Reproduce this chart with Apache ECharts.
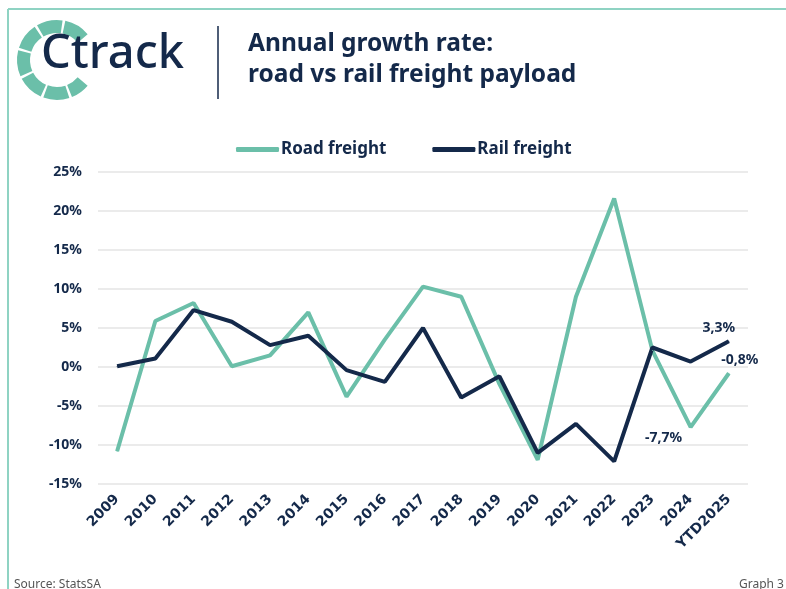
<!DOCTYPE html>
<html>
<head>
<meta charset="utf-8">
<script src="https://cdn.jsdelivr.net/npm/echarts@6/dist/echarts.min.js"></script>
<style>
  html, body { margin: 0; padding: 0; background: #fff; }
  #chart { width: 786px; height: 589px; }
</style>
</head>
<body>
<div id="chart"></div>
<script>
// data
const years = ['2009', '2010', '2011', '2012', '2013', '2014', '2015', '2016', '2017',
  '2018', '2019', '2020', '2021', '2022', '2023', '2024', 'YTD2025']
const roadFreight = [-10.8, 5.9, 8.2, 0.1, 1.5, 7.0, -3.8, 3.5, 10.3, 9.0, -2.2, -11.9, 9.0, 21.6, 2.1, -7.7, -0.8]
const railFreight = [0.1, 1.1, 7.3, 5.8, 2.8, 4.0, -0.4, -1.9, 5.0, -3.9, -1.2, -11.0, -7.3, -12.1, 2.5, 0.7, 3.3]
const yTicks = { min: -15, max: 25, step: 5 }

const teal = '#6bbfa9'
const navy = '#14294a'
const font = '"Noto Sans", sans-serif'

const chart = echarts.init(document.getElementById('chart'))

// only a few points carry a value label
const withLabel = (values, labels) => values.map((v, i) => {
  if (!labels[i]) return v
  return { value: v, label: Object.assign({ show: true, formatter: labels[i].text }, labels[i].style) }
})

const labelStyle = { color: navy, fontFamily: font, fontWeight: 'bold', fontSize: 14 }

// logo ring segments (teal "C" around the letter)
const ringParts = []
const segs = [[40, 78], [82, 120], [124, 162], [166, 204], [208, 246], [250, 288], [292, 320]]
segs.forEach(s => {
  ringParts.push({
    type: 'sector',
    shape: { cx: 57, cy: 60, r0: 27, r: 40, startAngle: -s[1] * Math.PI / 180, endAngle: -s[0] * Math.PI / 180 },
    style: { fill: teal }
  })
})

chart.setOption({
  animation: false,
  color: [teal, navy],
  graphic: [
    // frame
    { type: 'line', shape: { x1: 8, y1: 9, x2: 786, y2: 9 }, style: { stroke: '#8fd3c3', lineWidth: 2 } },
    { type: 'line', shape: { x1: 8, y1: 9, x2: 8, y2: 589 }, style: { stroke: '#8fd3c3', lineWidth: 2 } },
    ...ringParts,
    { type: 'text', left: 41, top: 31, style: { text: 'Ctrack', fill: navy, font: '500 47px ' + font } },
    { type: 'line', shape: { x1: 218, y1: 26, x2: 218, y2: 99 }, style: { stroke: navy, lineWidth: 1.5 } },
    { type: 'text', left: 248, top: 32, style: { text: 'Annual growth rate:', fill: navy, font: 'bold 24.5px ' + font } },
    { type: 'text', left: 248, top: 63, style: { text: 'road vs rail freight payload', fill: navy, font: 'bold 24.5px ' + font } },
    { type: 'text', left: 14, top: 579, style: { text: 'Source: StatsSA', fill: '#555', font: '12px ' + font } },
    { type: 'text', left: 739, top: 579, style: { text: 'Graph 3', fill: '#555', font: '12px ' + font } }
  ],
  legend: {
    left: 231,
    top: 136,
    itemWidth: 43,
    itemHeight: 5,
    itemGap: 46,
    icon: 'roundRect',
    textStyle: { color: navy, fontFamily: font, fontWeight: 'bold', fontSize: 17, padding: [0, 0, 0, -3] },
    data: ['Road freight', 'Rail freight']
  },
  grid: { left: 98, right: 38, top: 172, bottom: 105 },
  xAxis: {
    type: 'category',
    data: years,
    boundaryGap: true,
    axisLine: { show: false },
    axisTick: { show: false },
    axisLabel: { rotate: 45, margin: 13, interval: 0, color: navy, fontFamily: '"DejaVu Sans", sans-serif', fontWeight: 'bold', fontSize: 14 }
  },
  yAxis: {
    type: 'value',
    min: yTicks.min,
    max: yTicks.max,
    interval: yTicks.step,
    axisLine: { show: false },
    axisTick: { show: false },
    axisLabel: { margin: 16, color: navy, fontFamily: font, fontWeight: 'bold', fontSize: 14, formatter: '{value}%' },
    splitLine: { lineStyle: { color: '#e4e4e4', width: 1.5 } }
  },
  series: [
    {
      name: 'Road freight',
      type: 'line',
      symbol: 'circle',
      symbolSize: 1,
      lineStyle: { width: 4, color: teal },
      itemStyle: { color: teal },
      data: withLabel(roadFreight, {
        15: { text: '-7,7%', style: Object.assign({ position: 'bottom', offset: [-27, -2] }, labelStyle) },
        16: { text: '-0,8%', style: Object.assign({ position: 'top', offset: [11, -1] }, labelStyle) }
      })
    },
    {
      name: 'Rail freight',
      type: 'line',
      symbol: 'circle',
      symbolSize: 1,
      lineStyle: { width: 4, color: navy },
      itemStyle: { color: navy },
      data: withLabel(railFreight, {
        16: { text: '3,3%', style: Object.assign({ position: 'top', offset: [-10, -1] }, labelStyle) }
      })
    }
  ]
})
</script>
</body>
</html>
